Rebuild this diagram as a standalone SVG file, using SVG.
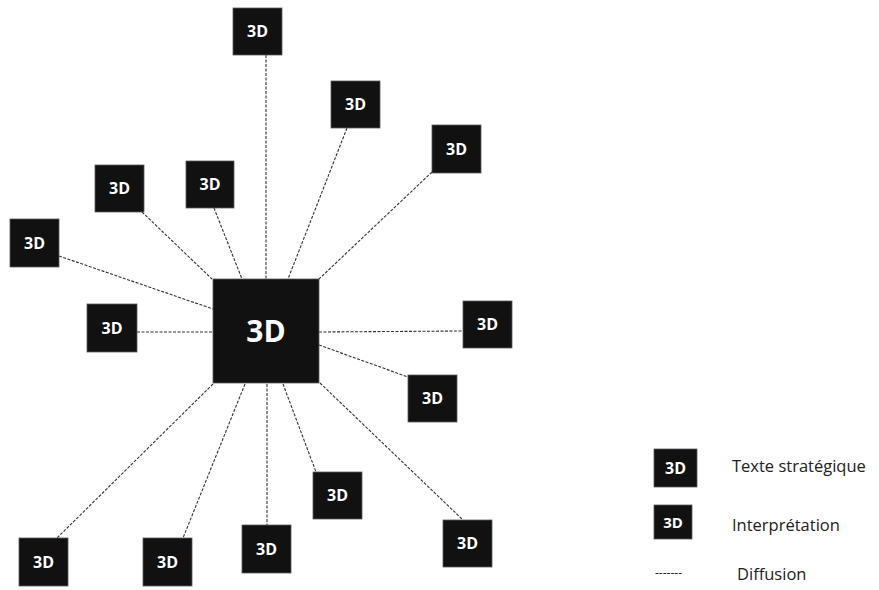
<svg xmlns="http://www.w3.org/2000/svg" width="879" height="590" viewBox="0 0 879 590">
<style>
.b{fill:#111;stroke:#5a5a5a;stroke-width:0.8}
.t{fill:#fff;font-family:"Open Sans","DejaVu Sans",sans-serif;font-weight:bold;font-size:16px;text-anchor:middle}
.big{font-size:30px}
.c line{stroke:#333;stroke-width:1.1;stroke-dasharray:3 1.5}
.l{fill:#222;font-family:"Open Sans","DejaVu Sans",sans-serif;font-size:16.5px}
</style>
<rect width="879" height="590" fill="#fff"/>
<g class="c" id="connectors">
<line x1="266" y1="55" x2="266" y2="279"/>
<line x1="347" y1="128" x2="288" y2="279"/>
<line x1="432" y1="172" x2="319" y2="279"/>
<line x1="142" y1="212" x2="212" y2="279"/>
<line x1="214" y1="208" x2="242" y2="279"/>
<line x1="59" y1="256" x2="213" y2="309"/>
<line x1="137" y1="332" x2="213" y2="332"/>
<line x1="319" y1="332" x2="463" y2="331"/>
<line x1="319" y1="345" x2="408" y2="377"/>
<line x1="320" y1="383" x2="463" y2="520"/>
<line x1="283" y1="384" x2="316" y2="472"/>
<line x1="267" y1="384" x2="267" y2="525"/>
<line x1="245" y1="384" x2="183" y2="538"/>
<line x1="213" y1="384" x2="57" y2="538"/>
</g>
<g id="center"><rect class="b" x="213" y="279" width="106" height="104"/><text class="t big" x="266" y="342">3D</text></g>
<g id="n1"><rect class="b" x="233" y="8" width="49" height="47"/><text class="t" x="257.5" y="37">3D</text></g>
<g id="n2"><rect class="b" x="331" y="81" width="49" height="47"/><text class="t" x="355.5" y="110">3D</text></g>
<g id="n3"><rect class="b" x="432" y="125" width="49" height="48"/><text class="t" x="456.5" y="155">3D</text></g>
<g id="n4"><rect class="b" x="95" y="165" width="49" height="47"/><text class="t" x="119.5" y="194">3D</text></g>
<g id="n5"><rect class="b" x="186" y="161" width="48" height="47"/><text class="t" x="210" y="190">3D</text></g>
<g id="n6"><rect class="b" x="10" y="219" width="49" height="48"/><text class="t" x="34.5" y="249">3D</text></g>
<g id="n7"><rect class="b" x="87" y="304" width="50" height="48"/><text class="t" x="112" y="334">3D</text></g>
<g id="n8"><rect class="b" x="463" y="301" width="49" height="47"/><text class="t" x="487.5" y="330">3D</text></g>
<g id="n9"><rect class="b" x="408" y="375" width="49" height="47"/><text class="t" x="432.5" y="404">3D</text></g>
<g id="n10"><rect class="b" x="313" y="472" width="49" height="47"/><text class="t" x="337.5" y="501">3D</text></g>
<g id="n11"><rect class="b" x="443" y="520" width="49" height="47"/><text class="t" x="467.5" y="549">3D</text></g>
<g id="n12"><rect class="b" x="19" y="538" width="49" height="48"/><text class="t" x="43.5" y="568">3D</text></g>
<g id="n13"><rect class="b" x="143" y="538" width="49" height="48"/><text class="t" x="167.5" y="568">3D</text></g>
<g id="n14"><rect class="b" x="242" y="525" width="49" height="48"/><text class="t" x="266.5" y="555">3D</text></g>
<g id="legend">
<rect class="b" x="654" y="449" width="43" height="38"/><text class="t" x="675.5" y="474">3D</text>
<text class="l" x="732" y="472">Texte stratégique</text>
<rect class="b" x="654" y="505" width="38" height="34"/><text class="t" x="673" y="528" style="font-size:15px">3D</text>
<text class="l" x="732" y="531">Interprétation</text>
<text class="l" x="655" y="577" style="font-size:12px">-------</text>
<text class="l" x="737" y="580">Diffusion</text>
</g>
</svg>
